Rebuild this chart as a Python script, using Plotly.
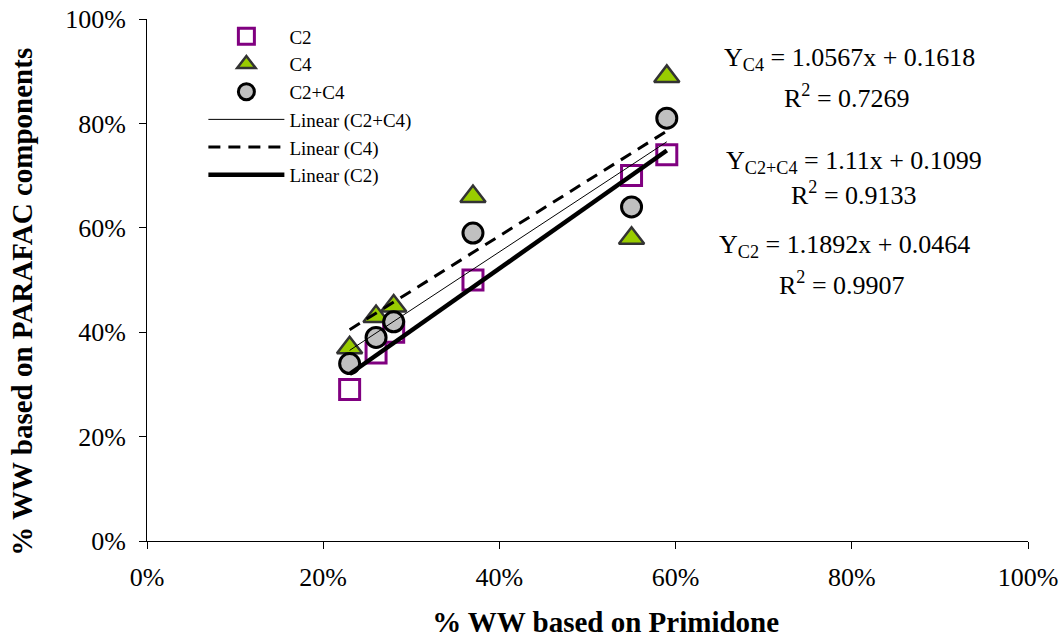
import numpy as np
import plotly.graph_objects as go

# Data (fractions of WW)
x_vals = [0.23, 0.26, 0.28, 0.37, 0.55, 0.59]
c2_vals = [0.29, 0.36, 0.40, 0.50, 0.70, 0.74]
c4_vals = [0.37, 0.43, 0.45, 0.66, 0.58, 0.89]
c2c4_vals = [0.34, 0.39, 0.42, 0.59, 0.64, 0.81]

x_tick_vals = [0, 0.2, 0.4, 0.6, 0.8, 1.0]
x_tick_text = ["0%", "20%", "40%", "60%", "80%", "100%"]
y_tick_vals = [0, 0.2, 0.4, 0.6, 0.8, 1.0]
y_tick_text = ["0%", "20%", "40%", "60%", "80%", "100%"]

eq_texts = [
    "Y<sub>C4</sub> = 1.0567x + 0.1618",
    "R<sup>2</sup> = 0.7269",
    "Y<sub>C2+C4</sub> = 1.11x + 0.1099",
    "R<sup>2</sup> = 0.9133",
    "Y<sub>C2</sub> = 1.1892x + 0.0464",
    "R<sup>2</sup> = 0.9907",
]

FONT = "Liberation Serif, Times New Roman, serif"

x = np.array(x_vals)
xfit = np.array([min(x_vals), max(x_vals)])


def fit(y):
    m, b = np.polyfit(x, np.array(y), 1)
    return m * xfit + b


fig = go.Figure()

fig.add_trace(go.Scatter(
    x=x_vals, y=c2_vals, mode="markers", name="C2",
    marker=dict(symbol="square-open", size=20, color="#800080",
                line=dict(width=3, color="#800080")),
))
fig.add_trace(go.Scatter(
    x=x_vals, y=c4_vals, mode="markers", name="C4",
    marker=dict(symbol="triangle-up", size=22, color="#99cc00",
                line=dict(width=2.5, color="#333333")),
))
fig.add_trace(go.Scatter(
    x=x_vals, y=c2c4_vals, mode="markers", name="C2+C4",
    marker=dict(symbol="circle", size=20, color="#c0c0c0",
                line=dict(width=3, color="#000000")),
))
fig.add_trace(go.Scatter(
    x=xfit, y=fit(c2c4_vals), mode="lines", name="Linear (C2+C4)",
    line=dict(color="black", width=1),
))
fig.add_trace(go.Scatter(
    x=xfit, y=fit(c4_vals), mode="lines", name="Linear (C4)",
    line=dict(color="black", width=3, dash="12px,8px"),
))
fig.add_trace(go.Scatter(
    x=xfit, y=fit(c2_vals), mode="lines", name="Linear (C2)",
    line=dict(color="black", width=4.5),
))

ann_pos = [(0.797, 0.923), (0.795, 0.851), (0.803, 0.727), (0.802, 0.665), (0.792, 0.565), (0.789, 0.494)]
for t, (ax, ay) in zip(eq_texts, ann_pos):
    fig.add_annotation(x=ax, y=ay, xref="paper", yref="paper", text=t,
                       showarrow=False, xanchor="center", yanchor="middle",
                       font=dict(family=FONT, size=26, color="black"))

fig.update_layout(
    width=1062, height=640,
    margin=dict(l=147, r=34, t=19, b=99),
    paper_bgcolor="white", plot_bgcolor="white",
    font=dict(family=FONT, size=26, color="black"),
    showlegend=True,
    legend=dict(x=0.064, y=1.003, xanchor="left", yanchor="top",
                bgcolor="rgba(0,0,0,0)", font=dict(family=FONT, size=19),
                tracegroupgap=0, itemwidth=76),
    xaxis=dict(range=[0, 1], tickvals=x_tick_vals, ticktext=x_tick_text,
               showgrid=False, zeroline=False, showline=True, linecolor="black",
               linewidth=1, ticks="outside", ticklen=7, tickcolor="black",
               ticklabelstandoff=6, tickfont=dict(family=FONT, size=26),
               automargin=False,
               title=dict(text="&nbsp;&nbsp;&nbsp;&nbsp;&nbsp;<b>% WW based on Primidone</b>",
                          font=dict(family=FONT, size=29), standoff=20)),
    yaxis=dict(range=[0, 1], tickvals=y_tick_vals, ticktext=y_tick_text,
               showgrid=False, zeroline=False, showline=True, linecolor="black",
               linewidth=1, ticks="outside", ticklen=7, tickcolor="black",
               ticklabelstandoff=8, tickfont=dict(family=FONT, size=26),
               automargin=False,
               title=dict(text="<b>% WW based on PARAFAC components</b>&nbsp;&nbsp;&nbsp;&nbsp;&nbsp;&nbsp;",
                          font=dict(family=FONT, size=29), standoff=23)),
)

fig.write_html("out.html")
